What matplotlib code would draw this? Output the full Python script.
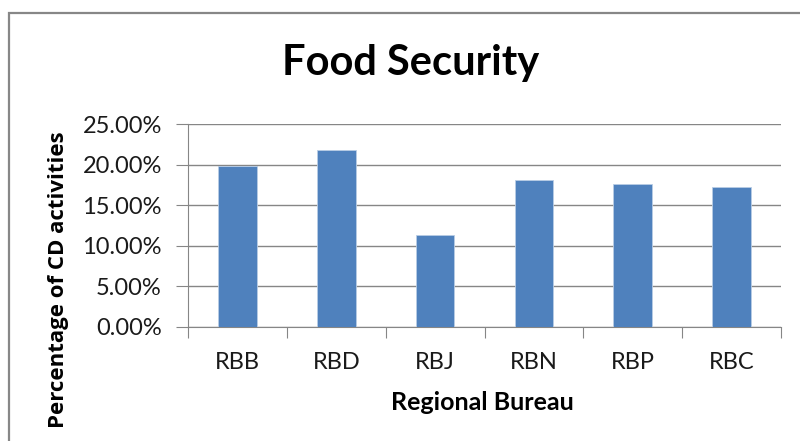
import matplotlib
matplotlib.use("Agg")
import matplotlib.pyplot as plt
from matplotlib.ticker import FuncFormatter, MultipleLocator
from matplotlib.patches import Rectangle

categories = ["RBB", "RBD", "RBJ", "RBN", "RBP", "RBC"]
values = [0.199, 0.218, 0.113, 0.181, 0.176, 0.173]

label_font = ["Lato", "DejaVu Sans"]
axis_title_font = ["Open Sans", "DejaVu Sans"]

fig = plt.figure(figsize=(8.0, 4.41), dpi=100)
ax = fig.add_axes([0.2354, 0.2592, 0.7405, 0.4589])

x = list(range(len(categories)))
ax.bar(x, values, width=0.39, color="#4f81bd", edgecolor="#b9cde5", linewidth=0.6, zorder=3)

ax.set_xlim(-0.5, len(categories) - 0.5)
ax.set_ylim(0, 0.25)
ax.yaxis.set_major_locator(MultipleLocator(0.05))
ax.yaxis.set_major_formatter(FuncFormatter(lambda v, p: f"{v*100:.2f}%"))
ax.grid(axis="y", color="#868686", linewidth=1.0, zorder=0)

for s in ["top", "right"]:
    ax.spines[s].set_visible(False)
ax.spines["left"].set_color("#868686")
ax.spines["bottom"].set_color("#868686")

# category boundaries carry the tick marks, category centres carry the labels
ax.set_xticks([i - 0.5 for i in range(len(categories) + 1)], minor=False)
ax.set_xticklabels([])
ax.set_xticks(x, minor=True)
ax.set_xticklabels(categories, minor=True, fontsize=17, family=label_font, color="#1a1a1a")
ax.tick_params(axis="x", which="major", length=8, color="#868686", direction="out")
ax.tick_params(axis="x", which="minor", length=0, pad=18)
ax.tick_params(axis="y", length=9, color="#868686", labelsize=17, pad=10, labelcolor="#1a1a1a")
for lab in ax.get_yticklabels():
    lab.set_family(label_font)

ax.set_xlabel("Regional Bureau", fontsize=18, fontweight="bold", family=label_font)
ax.xaxis.label.set_va("center")
ax.xaxis.set_label_coords((483 - 188.3) / 592.7, (326.7 - 403) / 202.4)
ax.set_ylabel("Percentage of CD activities", fontsize=16, fontweight="bold",
              family=axis_title_font)
ax.yaxis.label.set_va("center")
ax.yaxis.set_label_coords((58.5 - 188.3) / 592.7, (326.7 - 280) / 202.4)

fig.text(411 / 800, 1 - 63 / 441, "Food Security", ha="center", va="center",
         fontsize=30, fontweight="bold", family=label_font)

fig.patches.append(Rectangle((8.5 / 800, -0.05), 1.2, 1.0 - 12.5 / 441 + 0.05,
                             transform=fig.transFigure, fill=False,
                             edgecolor="#878787", linewidth=1.6))

fig.savefig("out.png", dpi=100)
